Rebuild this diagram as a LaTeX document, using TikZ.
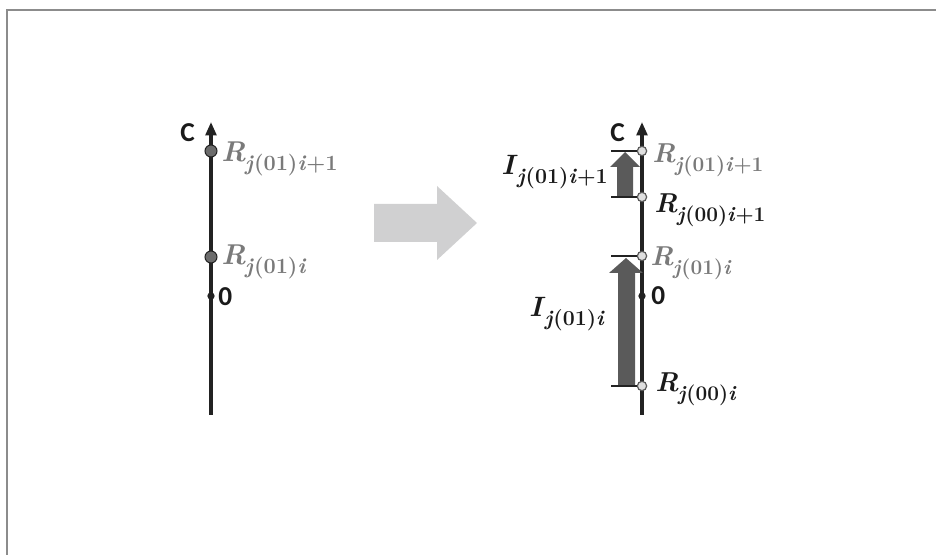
\documentclass[tikz,border=0pt]{standalone}
\usepackage{fontspec}
\newfontfamily\labsans{Carlito}
\usetikzlibrary{arrows.meta}
\newcommand\symlab[2]{\textit{#1}\kern-0.5pt\raisebox{-0.3em}{\fontsize{\subsz}{\subsz}\selectfont #2}}
\newcommand\ji[1]{\textit{j}(#1)\textit{i}}
\newcommand\subsz{15}
\definecolor{framec}{HTML}{8C8C8C}
\definecolor{axisc}{HTML}{222222}
\definecolor{lgray}{HTML}{7A7A7A}
\definecolor{dgray}{HTML}{5A5A5A}
\definecolor{bgarrow}{HTML}{D0D0D1}
\definecolor{txtk}{HTML}{1A1A1A}
\tikzset{
  axisline/.style={draw=axisc, line width=2.4pt, -{Triangle[length=10pt,width=8pt]}},
  bigdot/.style={circle, fill=dgray!90, draw=axisc, line width=0.8pt, minimum size=9pt, inner sep=0pt},
  smalldot/.style={circle, fill=gray!25, draw=dgray, line width=0.9pt, minimum size=7pt, inner sep=0pt},
  zerodot/.style={circle, fill=axisc, minimum size=5.5pt, inner sep=0pt},
  tickline/.style={draw=axisc, line width=1.1pt},
  blockarrow/.style={fill=dgray, draw=none},
  sanslab/.style={font=\labsans\bfseries\fontsize{20.5}{24}\selectfont, text=txtk, inner sep=0pt, anchor=base west},
  rlabbig/.style={font=\fontsize{21.5}{25}\selectfont\bfseries\renewcommand\subsz{16.3}, inner sep=0pt, anchor=base west},
  rlab/.style={font=\fontsize{20.5}{24}\selectfont\bfseries\renewcommand\subsz{15.6}, inner sep=0pt, anchor=base west},
  ilab/.style={font=\fontsize{21}{24}\selectfont\bfseries\renewcommand\subsz{16}, inner sep=0pt, anchor=base east, text=txtk},
}
\begin{document}
\begin{tikzpicture}[x=0.75pt,y=-0.75pt]
\useasboundingbox (0,0) rectangle (936,555);
\draw[framec, line width=1.5pt] (7,555) -- (7,10) -- (936,10);

% ---------- left axis ----------
\coordinate (lbot) at (211,415);
\coordinate (ltop) at (211,122);
\draw[axisline] (lbot) -- (ltop);
\node[bigdot] (l1) at (211,151) {};
\node[bigdot] (l2) at (211,257) {};
\node[zerodot] (l0) at (211,296) {};
\node[sanslab] (lC) at (180,142) {C};
\node[sanslab] (lz) at (218,306) {0};
\node[rlabbig, text=lgray] (lr1) at (221,162) {\symlab{R}{\ji{01}+1}};
\node[rlabbig, text=lgray] (lr2) at (221,265) {\symlab{R}{\ji{01}}};

% ---------- middle arrow ----------
\fill[bgarrow] (374,204) -- (437,204) -- (437,186) -- (477,223) -- (437,260) -- (437,242) -- (374,242) -- cycle;

% ---------- right axis ----------
\coordinate (rbot) at (642,415);
\coordinate (rtop) at (642,122);
\draw[axisline] (rbot) -- (rtop);
\coordinate (t1) at (611,151);
\coordinate (t2) at (611,197);
\coordinate (t3) at (611,256);
\coordinate (t4) at (611,386);
\node[smalldot] (r1) at (642,151) {};
\node[smalldot] (r2) at (642,197) {};
\node[smalldot] (r3) at (642,256) {};
\node[smalldot] (r4) at (642,386) {};
\node[zerodot] (r0) at (642,296) {};
\draw[tickline] (t1) -- (r1.west);
\draw[tickline] (t2) -- (r2.west);
\draw[tickline] (t3) -- (r3.west);
\draw[tickline] (t4) -- (r4.west);

% block arrows
\fill[blockarrow] (617,196) -- (617,167) -- (610,167) -- (625,152) -- (640,167) -- (633,167) -- (633,196) -- cycle;
\fill[blockarrow] (618,385) -- (618,273) -- (609,273) -- (626,258) -- (643,273) -- (635,273) -- (635,385) -- cycle;

\node[sanslab] (rC) at (610,142) {C};
\node[sanslab] (rz) at (651,305) {0};
\node[rlab, text=lgray] (rl1) at (652,163) {\symlab{R}{\ji{01}+1}};
\node[rlab, text=txtk] (rl2) at (654,213) {\symlab{R}{\ji{00}+1}};
\node[rlab, text=lgray] (rl3) at (650,266) {\symlab{R}{\ji{01}}};
\node[rlab, text=txtk] (rl4) at (655,392) {\symlab{R}{\ji{00}}};
\node[ilab] (i1) at (608,175) {\symlab{I}{\ji{01}+1}};
\node[ilab] (i2) at (605,317) {\symlab{I}{\ji{01}}};
\end{tikzpicture}
\end{document}
